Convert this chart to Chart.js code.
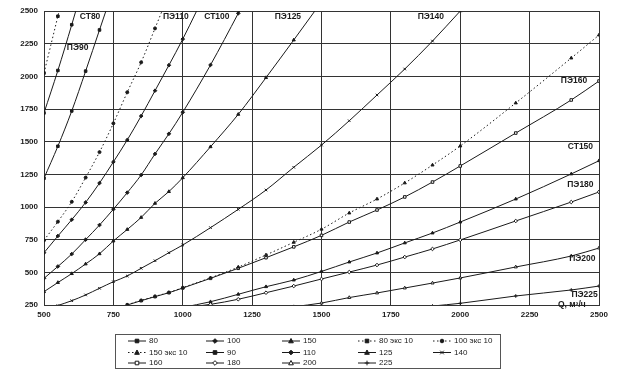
<!DOCTYPE html>
<html>
<head>
<meta charset="utf-8">
<script src="https://cdn.jsdelivr.net/npm/chart.js@4/dist/chart.umd.min.js"></script>
<style>
html,body{margin:0;padding:0;background:#fff;}
#c{display:block;}
</style>
</head>
<body>
<canvas id="c" width="630" height="380"></canvas>
<script>
// ---- data (Q, m3/h ; H) ----
const xTicks = [500, 750, 1000, 1250, 1500, 1750, 2000, 2250, 2500];
const yTicks = [250, 500, 750, 1000, 1250, 1500, 1750, 2000, 2250, 2500];

const seriesNames = ['80', '100', '150', '80 экс 10', '100 экс 10', '150 экс 10', '90', '110', '125', '140', '160', '180', '200', '225'];

const q80 = [500, 550, 600, 650, 700, 750];
const h80 = [1220, 1465, 1735, 2040, 2355, 2670];

const q100 = [500, 550, 600, 650, 700, 750, 800, 850, 900, 950, 1000, 1100, 1200, 1300];
const h100 = [454, 545, 640, 750, 862, 983, 1110, 1245, 1406, 1560, 1725, 2087, 2482, 2890];

const q150 = [1000, 1100, 1200, 1300, 1400, 1500, 1600, 1700, 1800, 1900, 2000, 2200, 2400, 2500];
const h150 = [232, 275, 332, 390, 441, 507, 579, 648, 725, 801, 885, 1061, 1253, 1354];

const q80e = [500, 550, 600];
const h80e = [2025, 2460, 2900];

const q100e = [500, 550, 600, 650, 700, 750, 800, 850, 900, 950];
const h100e = [745, 888, 1040, 1225, 1420, 1640, 1878, 2107, 2367, 2630];

const q150e = [800, 850, 900, 950, 1000, 1100, 1200, 1300, 1400, 1500, 1600, 1700, 1800, 1900, 2000, 2200, 2400, 2500];
const h150e = [252, 285, 316, 346, 383, 458, 540, 633, 730, 830, 954, 1061, 1184, 1321, 1467, 1796, 2140, 2316];

const q90 = [500, 550, 600, 650];
const h90 = [1720, 2045, 2395, 2760];

const q110 = [500, 550, 600, 650, 700, 750, 800, 850, 900, 950, 1000, 1100];
const h110 = [650, 778, 903, 1035, 1183, 1345, 1513, 1696, 1890, 2085, 2285, 2720];

const q125 = [500, 550, 600, 650, 700, 750, 800, 850, 900, 950, 1000, 1100, 1200, 1300, 1400, 1500];
const h125 = [352, 422, 490, 564, 642, 740, 828, 920, 1028, 1118, 1224, 1461, 1709, 1990, 2278, 2570];

const q140 = [550, 600, 650, 700, 750, 800, 850, 900, 950, 1000, 1100, 1200, 1300, 1400, 1500, 1600, 1700, 1800, 1900, 2000];
const h140 = [246, 283, 327, 378, 428, 472, 531, 589, 650, 709, 842, 982, 1130, 1304, 1474, 1660, 1857, 2056, 2270, 2500];

const q160 = [800, 850, 900, 950, 1000, 1100, 1200, 1300, 1400, 1500, 1600, 1700, 1800, 1900, 2000, 2200, 2400, 2500];
const h160 = [250, 283, 314, 344, 380, 454, 531, 612, 695, 783, 885, 977, 1077, 1191, 1314, 1566, 1819, 1964];

const q180 = [1000, 1100, 1200, 1300, 1400, 1500, 1600, 1700, 1800, 1900, 2000, 2200, 2400, 2500];
const h180 = [228, 255, 294, 344, 395, 449, 502, 556, 617, 679, 748, 893, 1038, 1115];

const q200 = [1400, 1500, 1600, 1700, 1800, 1900, 2000, 2200, 2400, 2500];
const h200 = [237, 265, 307, 342, 380, 418, 457, 541, 625, 686];

const q225 = [1900, 2000, 2200, 2400, 2500];
const h225 = [242, 263, 319, 365, 395];

// curve labels drawn on the plot
const curveLabels = ['СТ80', 'ПЭ90', 'ПЭ110', 'СТ100', 'ПЭ125', 'ПЭ140', 'ПЭ160', 'СТ150', 'ПЭ180', 'ПЭ200', 'ПЭ225'];
const axisTitleX = 'Q, м³/ч';

// ---- styling / layout (not data) ----
const labelAnchors = [
  [666, 2456], [621, 2217], [975, 2456], [1123, 2456], [1379, 2456], [1894, 2456],
  [2410, 1967], [2433, 1461], [2433, 1168], [2440, 607], [2448, 326]
];
const axisTitleAnchor = [2402, 250];

const seriesQ = [q80, q100, q150, q80e, q100e, q150e, q90, q110, q125, q140, q160, q180, q200, q225];
const seriesH = [h80, h100, h150, h80e, h100e, h150e, h90, h110, h125, h140, h160, h180, h200, h225];
const seriesStyle = [
  {ps: 'rect', fill: true, dash: []},
  {ps: 'rectRot', fill: true, dash: []},
  {ps: 'triangle', fill: true, dash: []},
  {ps: 'rect', fill: true, dash: [1.5, 2.5]},
  {ps: 'circle', fill: true, dash: [1.5, 2.5]},
  {ps: 'triangle', fill: true, dash: [1.5, 2.5]},
  {ps: 'rect', fill: true, dash: []},
  {ps: 'rectRot', fill: true, dash: []},
  {ps: 'triangle', fill: true, dash: []},
  {ps: 'crossRot', fill: false, dash: []},
  {ps: 'rect', fill: false, dash: []},
  {ps: 'rectRot', fill: false, dash: []},
  {ps: 'triangle', fill: false, dash: []},
  {ps: 'cross', fill: false, dash: []}
];

const INK = '#1a1a1a';
const FONT = "'Liberation Sans', Arial, sans-serif";

const datasets = seriesNames.map((name, i) => ({
  label: name,
  data: seriesQ[i].map((q, k) => ({x: q, y: seriesH[i][k]})),
  borderColor: INK,
  borderWidth: 1,
  borderDash: seriesStyle[i].dash,
  pointStyle: seriesStyle[i].ps,
  pointRadius: seriesStyle[i].ps === 'circle' ? 1.5 : 1.8,
  pointBorderWidth: 1,
  pointBorderColor: INK,
  pointBackgroundColor: seriesStyle[i].fill ? INK : '#fff',
  cubicInterpolationMode: 'monotone',
  fill: false,
  clip: 0
}));

function drawMarker(ctx, style, x, y, r) {
  ctx.save();
  ctx.lineWidth = 1;
  ctx.strokeStyle = INK;
  ctx.fillStyle = style.fill ? INK : '#fff';
  ctx.beginPath();
  if (style.ps === 'rect') {
    ctx.rect(x - r, y - r, 2 * r, 2 * r); ctx.fill(); ctx.stroke();
  } else if (style.ps === 'rectRot') {
    ctx.moveTo(x, y - r * 1.3); ctx.lineTo(x + r * 1.3, y); ctx.lineTo(x, y + r * 1.3); ctx.lineTo(x - r * 1.3, y); ctx.closePath(); ctx.fill(); ctx.stroke();
  } else if (style.ps === 'triangle') {
    ctx.moveTo(x, y - r * 1.4); ctx.lineTo(x + r * 1.3, y + r); ctx.lineTo(x - r * 1.3, y + r); ctx.closePath(); ctx.fill(); ctx.stroke();
  } else if (style.ps === 'circle') {
    ctx.arc(x, y, r, 0, Math.PI * 2); ctx.fill(); ctx.stroke();
  } else if (style.ps === 'crossRot') {
    ctx.moveTo(x - r, y - r); ctx.lineTo(x + r, y + r); ctx.moveTo(x + r, y - r); ctx.lineTo(x - r, y + r); ctx.stroke();
  } else if (style.ps === 'cross') {
    ctx.moveTo(x, y - r * 1.3); ctx.lineTo(x, y + r * 1.3); ctx.moveTo(x - r * 1.3, y); ctx.lineTo(x + r * 1.3, y); ctx.stroke();
  }
  ctx.restore();
}

const curveLabelPlugin = {
  id: 'curveLabels',
  afterDatasetsDraw(chart) {
    const {ctx, scales: {x, y}} = chart;
    ctx.save();
    ctx.font = 'bold 8.5px ' + FONT;
    ctx.fillStyle = INK;
    ctx.textAlign = 'center';
    ctx.textBaseline = 'middle';
    curveLabels.forEach((t, i) => {
      ctx.fillText(t, x.getPixelForValue(labelAnchors[i][0]), y.getPixelForValue(labelAnchors[i][1]));
    });
    ctx.fillText(axisTitleX, x.getPixelForValue(axisTitleAnchor[0]), y.getPixelForValue(axisTitleAnchor[1]));
    ctx.restore();
  }
};

const gridLegendPlugin = {
  id: 'gridLegend',
  afterDraw(chart) {
    const ctx = chart.ctx;
    const left = 115, top = 334, right = 500, bottom = 368;
    ctx.save();
    ctx.strokeStyle = '#555';
    ctx.lineWidth = 1;
    ctx.strokeRect(left + 0.5, top + 0.5, right - left, bottom - top);
    ctx.font = '8px ' + FONT;
    ctx.textBaseline = 'middle';
    ctx.textAlign = 'left';
    ctx.fillStyle = INK;
    const colX = [128, 206, 282, 358, 433];
    const rowY = [340.5, 352, 362.5];
    seriesNames.forEach((name, i) => {
      const cx = colX[i % 5], cy = rowY[Math.floor(i / 5)];
      const st = seriesStyle[i];
      ctx.save();
      ctx.strokeStyle = INK;
      ctx.lineWidth = 1;
      ctx.setLineDash(st.dash);
      ctx.beginPath();
      ctx.moveTo(cx, cy + 0.5); ctx.lineTo(cx + 18, cy + 0.5);
      ctx.stroke();
      ctx.restore();
      drawMarker(ctx, st, cx + 9, cy + 0.5, 1.8);
      ctx.fillStyle = INK;
      ctx.fillText(name, cx + 21, cy + 0.5);
    });
    ctx.restore();
  }
};

new Chart(document.getElementById('c'), {
  type: 'line',
  data: {datasets},
  options: {
    responsive: false,
    animation: false,
    devicePixelRatio: 1,
    layout: {padding: {top: 11, right: 31, left: 0, bottom: 0}},
    plugins: {legend: {display: false}, tooltip: {enabled: false}},
    scales: {
      x: {
        type: 'linear', min: 500, max: 2500,
        afterBuildTicks: s => { s.ticks = xTicks.map(v => ({value: v})); },
        afterFit: s => { s.height = 75; },
        ticks: {callback: v => String(v), padding: 5, color: INK, font: {family: FONT, size: 8, weight: 'bold'}, maxRotation: 0},
        grid: {color: '#333', lineWidth: 1, drawTicks: false},
        border: {color: '#333', width: 1}
      },
      y: {
        type: 'linear', min: 250, max: 2500,
        afterBuildTicks: s => { s.ticks = yTicks.map(v => ({value: v})); },
        afterFit: s => { s.width = 44; },
        ticks: {callback: v => String(v), padding: 6, color: INK, font: {family: FONT, size: 8, weight: 'bold'}},
        grid: {color: '#333', lineWidth: 1, drawTicks: false},
        border: {color: '#333', width: 1}
      }
    }
  },
  plugins: [curveLabelPlugin, gridLegendPlugin]
});
</script>
</body>
</html>
